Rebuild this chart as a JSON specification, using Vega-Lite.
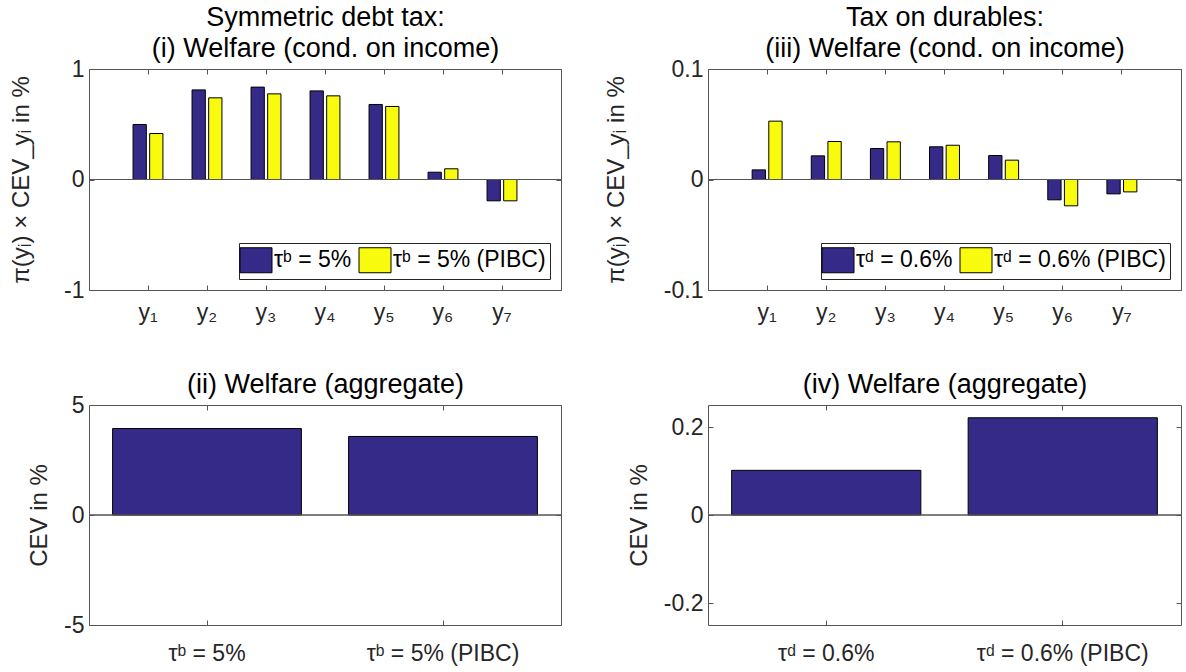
{
  "$schema": "https://vega.github.io/schema/vega-lite/v6.json",
  "background": "white",
  "padding": {"left": 9, "top": 0, "right": 4, "bottom": 4},
  "bounds": "flush",
  "columns": 2,
  "spacing": {"row": 115, "column": 147},
  "resolve": {"scale": {"color": "independent", "x": "independent", "y": "independent", "xOffset": "independent"}, "legend": {"color": "independent"}},
  "config": {
    "font": "Liberation Sans",
    "view": {"stroke": "#555", "strokeWidth": 1},
    "axis": {
      "domain": false, "grid": false, "tickSize": -5, "tickColor": "#555", "tickWidth": 1,
      "labelFont": "Liberation Sans", "labelFontSize": 23, "labelColor": "#262626", "labelPadding": 10,
      "titleFont": "Liberation Sans", "titleFontSize": 24, "titleFontWeight": "normal", "titleColor": "#262626", "titlePadding": 12
    },
    "legend": {
      "orient": "bottom-right", "offset": 11, "direction": "horizontal", "title": null,
      "fillColor": "white", "strokeColor": "#262626", "padding": 4,
      "labelFont": "Liberation Sans", "labelFontSize": 23, "labelColor": "#000000", "labelOffset": 5, "labelLimit": 300,
      "columnPadding": 5, "symbolType": "M-1.28,-1H1.28V1H-1.28Z", "symbolSize": 625,
      "symbolStrokeColor": "black", "symbolStrokeWidth": 1, "symbolOpacity": 1
    }
  },
  "datasets": {
    "debt_income": [
      {"income": "y₁", "policy": "τᵇ = 5%", "value": 0.498},
      {"income": "y₁", "policy": "τᵇ = 5% (PIBC)", "value": 0.416},
      {"income": "y₂", "policy": "τᵇ = 5%", "value": 0.811},
      {"income": "y₂", "policy": "τᵇ = 5% (PIBC)", "value": 0.739},
      {"income": "y₃", "policy": "τᵇ = 5%", "value": 0.836},
      {"income": "y₃", "policy": "τᵇ = 5% (PIBC)", "value": 0.775},
      {"income": "y₄", "policy": "τᵇ = 5%", "value": 0.802},
      {"income": "y₄", "policy": "τᵇ = 5% (PIBC)", "value": 0.757},
      {"income": "y₅", "policy": "τᵇ = 5%", "value": 0.679},
      {"income": "y₅", "policy": "τᵇ = 5% (PIBC)", "value": 0.661},
      {"income": "y₆", "policy": "τᵇ = 5%", "value": 0.066},
      {"income": "y₆", "policy": "τᵇ = 5% (PIBC)", "value": 0.097},
      {"income": "y₇", "policy": "τᵇ = 5%", "value": -0.193},
      {"income": "y₇", "policy": "τᵇ = 5% (PIBC)", "value": -0.193}
    ],
    "durables_income": [
      {"income": "y₁", "policy": "τᵈ = 0.6%", "value": 0.0087},
      {"income": "y₁", "policy": "τᵈ = 0.6% (PIBC)", "value": 0.0528},
      {"income": "y₂", "policy": "τᵈ = 0.6%", "value": 0.0214},
      {"income": "y₂", "policy": "τᵈ = 0.6% (PIBC)", "value": 0.0344},
      {"income": "y₃", "policy": "τᵈ = 0.6%", "value": 0.028},
      {"income": "y₃", "policy": "τᵈ = 0.6% (PIBC)", "value": 0.0341},
      {"income": "y₄", "policy": "τᵈ = 0.6%", "value": 0.0296},
      {"income": "y₄", "policy": "τᵈ = 0.6% (PIBC)", "value": 0.031},
      {"income": "y₅", "policy": "τᵈ = 0.6%", "value": 0.0217},
      {"income": "y₅", "policy": "τᵈ = 0.6% (PIBC)", "value": 0.0175},
      {"income": "y₆", "policy": "τᵈ = 0.6%", "value": -0.0184},
      {"income": "y₆", "policy": "τᵈ = 0.6% (PIBC)", "value": -0.0238},
      {"income": "y₇", "policy": "τᵈ = 0.6%", "value": -0.013},
      {"income": "y₇", "policy": "τᵈ = 0.6% (PIBC)", "value": -0.0112}
    ],
    "debt_agg": [
      {"policy": "τᵇ = 5%", "value": 3.93},
      {"policy": "τᵇ = 5% (PIBC)", "value": 3.57}
    ],
    "durables_agg": [
      {"policy": "τᵈ = 0.6%", "value": 0.1015},
      {"policy": "τᵈ = 0.6% (PIBC)", "value": 0.221}
    ]
  },
  "concat": [
    {
      "width": 472, "height": 221,
      "data": {"name": "debt_income"},
      "layer": [
        {
          "mark": {"type": "bar", "stroke": "black", "strokeWidth": 1},
          "encoding": {
            "x": {"field": "income", "type": "nominal", "sort": null, "scale": {"paddingInner": 0.437, "paddingOuter": 0.7185}, "axis": {"title": null, "labelAngle": 0, "orient": "bottom", "labelPadding": 16}},
            "xOffset": {"field": "policy", "type": "nominal", "sort": null, "scale": {"paddingInner": 0.2, "paddingOuter": 0.1}},
            "y": {"field": "value", "type": "quantitative", "scale": {"domain": [-1, 1], "nice": false, "zero": false}, "axis": {"title": "π(yᵢ) × CEV_yᵢ in %", "titlePadding": 30, "values": [-1, 0, 1], "labelExpr": "replace(format(datum.value, '~g'), '−', '-')"}},
            "color": {"field": "policy", "type": "nominal", "sort": null, "scale": {"range": ["#352a87", "#f9fb0e"]}}
          }
        },
        {"mark": {"type": "rule", "color": "#555", "strokeWidth": 1}, "encoding": {"y": {"datum": 0, "axis": null}}},
        {
          "mark": {"type": "bar", "opacity": 0},
          "encoding": {
            "x": {"field": "income", "type": "nominal", "sort": null, "axis": {"orient": "top", "labels": false, "title": ["Symmetric debt tax:", "(i) Welfare (cond. on income)"], "titleFontSize": 27, "titleLineHeight": 31, "titleColor": "#000000", "titlePadding": 6}},
            "y": {"field": "value", "type": "quantitative", "axis": {"orient": "right", "labels": false, "title": null, "values": [-1, 0, 1]}}
          }
        }
      ],
      "resolve": {"axis": {"x": "independent", "y": "independent"}}
    },
    {
      "width": 473, "height": 221,
      "data": {"name": "durables_income"},
      "layer": [
        {
          "mark": {"type": "bar", "stroke": "black", "strokeWidth": 1},
          "encoding": {
            "x": {"field": "income", "type": "nominal", "sort": null, "scale": {"paddingInner": 0.437, "paddingOuter": 0.7185}, "axis": {"title": null, "labelAngle": 0, "orient": "bottom", "labelPadding": 16}},
            "xOffset": {"field": "policy", "type": "nominal", "sort": null, "scale": {"paddingInner": 0.2, "paddingOuter": 0.1}},
            "y": {"field": "value", "type": "quantitative", "scale": {"domain": [-0.1, 0.1], "nice": false, "zero": false}, "axis": {"title": "π(yᵢ) × CEV_yᵢ in %", "titlePadding": 35, "values": [-0.1, 0, 0.1], "labelExpr": "replace(format(datum.value, '~g'), '−', '-')"}},
            "color": {"field": "policy", "type": "nominal", "sort": null, "scale": {"range": ["#352a87", "#f9fb0e"]}}
          }
        },
        {"mark": {"type": "rule", "color": "#555", "strokeWidth": 1}, "encoding": {"y": {"datum": 0, "axis": null}}},
        {
          "mark": {"type": "bar", "opacity": 0},
          "encoding": {
            "x": {"field": "income", "type": "nominal", "sort": null, "axis": {"orient": "top", "labels": false, "title": ["Tax on durables:", "(iii) Welfare (cond. on income)"], "titleFontSize": 27, "titleLineHeight": 31, "titleColor": "#000000", "titlePadding": 6}},
            "y": {"field": "value", "type": "quantitative", "axis": {"orient": "right", "labels": false, "title": null, "values": [-0.1, 0, 0.1]}}
          }
        }
      ],
      "resolve": {"axis": {"x": "independent", "y": "independent"}}
    },
    {
      "width": 472, "height": 220,
      "data": {"name": "debt_agg"},
      "layer": [
        {
          "mark": {"type": "bar", "stroke": "black", "strokeWidth": 1, "fill": "#352a87"},
          "encoding": {
            "x": {"field": "policy", "type": "nominal", "sort": null, "scale": {"paddingInner": 0.2, "paddingOuter": 0.1}, "axis": {"title": null, "labelAngle": 0, "orient": "bottom", "labelPadding": 22}},
            "y": {"field": "value", "type": "quantitative", "scale": {"domain": [-5, 5], "nice": false, "zero": false}, "axis": {"title": "CEV in %", "values": [-5, 0, 5], "labelExpr": "replace(format(datum.value, '~g'), '−', '-')"}}
          }
        },
        {"mark": {"type": "rule", "color": "#555", "strokeWidth": 1}, "encoding": {"y": {"datum": 0, "axis": null}}},
        {
          "mark": {"type": "bar", "opacity": 0},
          "encoding": {
            "x": {"field": "policy", "type": "nominal", "sort": null, "axis": {"orient": "top", "labels": false, "title": "(ii) Welfare (aggregate)", "titleFontSize": 27, "titleColor": "#000000", "titlePadding": 6}},
            "y": {"field": "value", "type": "quantitative", "axis": {"orient": "right", "labels": false, "title": null, "values": [-5, 0, 5]}}
          }
        }
      ],
      "resolve": {"axis": {"x": "independent", "y": "independent"}}
    },
    {
      "width": 473, "height": 220,
      "data": {"name": "durables_agg"},
      "layer": [
        {
          "mark": {"type": "bar", "stroke": "black", "strokeWidth": 1, "fill": "#352a87"},
          "encoding": {
            "x": {"field": "policy", "type": "nominal", "sort": null, "scale": {"paddingInner": 0.2, "paddingOuter": 0.1}, "axis": {"title": null, "labelAngle": 0, "orient": "bottom", "labelPadding": 22}},
            "y": {"field": "value", "type": "quantitative", "scale": {"domain": [-0.25, 0.25], "nice": false, "zero": false}, "axis": {"title": "CEV in %", "values": [-0.2, 0, 0.2], "labelExpr": "replace(format(datum.value, '~g'), '−', '-')"}}
          }
        },
        {"mark": {"type": "rule", "color": "#555", "strokeWidth": 1}, "encoding": {"y": {"datum": 0, "axis": null}}},
        {
          "mark": {"type": "bar", "opacity": 0},
          "encoding": {
            "x": {"field": "policy", "type": "nominal", "sort": null, "axis": {"orient": "top", "labels": false, "title": "(iv) Welfare (aggregate)", "titleFontSize": 27, "titleColor": "#000000", "titlePadding": 6}},
            "y": {"field": "value", "type": "quantitative", "axis": {"orient": "right", "labels": false, "title": null, "values": [-0.2, 0, 0.2]}}
          }
        }
      ],
      "resolve": {"axis": {"x": "independent", "y": "independent"}}
    }
  ]
}
